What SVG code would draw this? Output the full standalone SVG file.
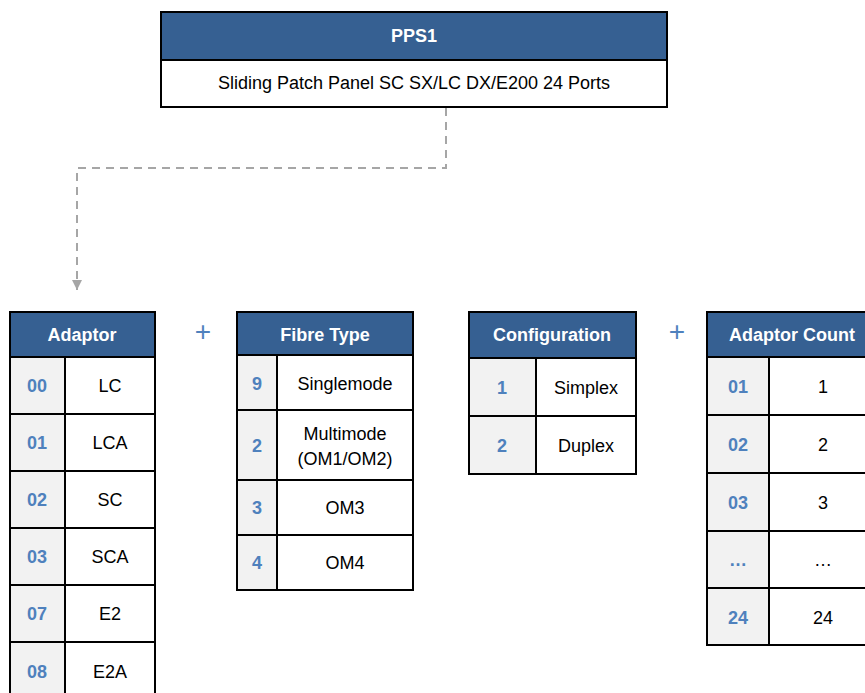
<svg xmlns="http://www.w3.org/2000/svg" width="865" height="693" viewBox="0 0 865 693">
<defs>
<style>
.bg{fill:#ffffff}
.hdr{fill:#366092;stroke:#000;stroke-width:2}
.cell{fill:#ffffff;stroke:#000;stroke-width:2}
.key{fill:#f2f2f2;stroke:#000;stroke-width:2}
.ht{font-family:"Liberation Sans",Arial,sans-serif;font-size:18px;font-weight:bold;fill:#ffffff;text-anchor:middle}
.t{font-family:"Liberation Sans",Arial,sans-serif;font-size:18px;fill:#000;text-anchor:middle}
.k{font-family:"Liberation Sans",Arial,sans-serif;font-size:18px;font-weight:bold;fill:#4f81bd;text-anchor:middle}
.plus{font-family:"Liberation Sans",Arial,sans-serif;font-size:28px;fill:#4f81bd;text-anchor:middle}
.conn{fill:none;stroke:#a6a6a6;stroke-width:2;stroke-dasharray:8,6}
</style>
<marker id="arr" viewBox="0 0 10 10" refX="10" refY="5" markerWidth="5" markerHeight="5" orient="auto" markerUnits="strokeWidth">
<path d="M0,0 L10,5 L0,10 z" fill="#a6a6a6"/>
</marker>
</defs>
<rect class="bg" x="0" y="0" width="865" height="693"/>

<g id="connectors">
<path class="conn" d="M446,108 V168 H77 V290" marker-end="url(#arr)"/>
</g>

<g id="pps1">
<rect class="hdr" x="161" y="12" width="506" height="48"/>
<rect class="cell" x="161" y="60" width="506" height="47"/>
<text class="ht" x="414" y="42">PPS1</text>
<text class="t" x="414" y="89">Sliding Patch Panel SC SX/LC DX/E200 24 Ports</text>
</g>

<g id="adaptor">
<rect class="hdr" x="10" y="312" width="145" height="45"/>
<text class="ht" x="82" y="341">Adaptor</text>
<rect class="key" x="10" y="357" width="55" height="57"/><rect class="cell" x="65" y="357" width="90" height="57"/>
<text class="k" x="37" y="392">00</text><text class="t" x="110" y="392">LC</text>
<rect class="key" x="10" y="414" width="55" height="57"/><rect class="cell" x="65" y="414" width="90" height="57"/>
<text class="k" x="37" y="449">01</text><text class="t" x="110" y="449">LCA</text>
<rect class="key" x="10" y="471" width="55" height="57"/><rect class="cell" x="65" y="471" width="90" height="57"/>
<text class="k" x="37" y="506">02</text><text class="t" x="110" y="506">SC</text>
<rect class="key" x="10" y="528" width="55" height="57"/><rect class="cell" x="65" y="528" width="90" height="57"/>
<text class="k" x="37" y="563">03</text><text class="t" x="110" y="563">SCA</text>
<rect class="key" x="10" y="585" width="55" height="57"/><rect class="cell" x="65" y="585" width="90" height="57"/>
<text class="k" x="37" y="620">07</text><text class="t" x="110" y="620">E2</text>
<rect class="key" x="10" y="642" width="55" height="57"/><rect class="cell" x="65" y="642" width="90" height="57"/>
<text class="k" x="37" y="678">08</text><text class="t" x="110" y="678">E2A</text>
</g>

<text class="plus" x="203" y="341">+</text>

<g id="fibre-type">
<rect class="hdr" x="237" y="312" width="176" height="43"/>
<text class="ht" x="325" y="341">Fibre Type</text>
<rect class="key" x="237" y="355" width="40" height="55"/><rect class="cell" x="277" y="355" width="136" height="55"/>
<text class="k" x="257" y="390">9</text><text class="t" x="345" y="390">Singlemode</text>
<rect class="key" x="237" y="410" width="40" height="70"/><rect class="cell" x="277" y="410" width="136" height="70"/>
<text class="k" x="257" y="452">2</text><text class="t" x="345" y="440">Multimode</text><text class="t" x="345" y="465">(OM1/OM2)</text>
<rect class="key" x="237" y="480" width="40" height="55"/><rect class="cell" x="277" y="480" width="136" height="55"/>
<text class="k" x="257" y="514">3</text><text class="t" x="345" y="514">OM3</text>
<rect class="key" x="237" y="535" width="40" height="55"/><rect class="cell" x="277" y="535" width="136" height="55"/>
<text class="k" x="257" y="569">4</text><text class="t" x="345" y="569">OM4</text>
</g>

<g id="configuration">
<rect class="hdr" x="469" y="312" width="167" height="46"/>
<text class="ht" x="552" y="341">Configuration</text>
<rect class="key" x="469" y="358" width="67" height="58"/><rect class="cell" x="536" y="358" width="100" height="58"/>
<text class="k" x="502" y="394">1</text><text class="t" x="586" y="394">Simplex</text>
<rect class="key" x="469" y="416" width="67" height="58"/><rect class="cell" x="536" y="416" width="100" height="58"/>
<text class="k" x="502" y="452">2</text><text class="t" x="586" y="452">Duplex</text>
</g>

<text class="plus" x="677" y="341">+</text>

<g id="adaptor-count">
<rect class="hdr" x="707" y="312" width="170" height="45"/>
<text class="ht" x="792" y="341">Adaptor Count</text>
<rect class="key" x="707" y="357" width="62" height="58"/><rect class="cell" x="769" y="357" width="108" height="58"/>
<text class="k" x="738" y="393">01</text><text class="t" x="823" y="393">1</text>
<rect class="key" x="707" y="415" width="62" height="58"/><rect class="cell" x="769" y="415" width="108" height="58"/>
<text class="k" x="738" y="451">02</text><text class="t" x="823" y="451">2</text>
<rect class="key" x="707" y="473" width="62" height="58"/><rect class="cell" x="769" y="473" width="108" height="58"/>
<text class="k" x="738" y="509">03</text><text class="t" x="823" y="509">3</text>
<rect class="key" x="707" y="531" width="62" height="57"/><rect class="cell" x="769" y="531" width="108" height="57"/>
<text class="k" x="738" y="566">…</text><text class="t" x="823" y="566">…</text>
<rect class="key" x="707" y="588" width="62" height="57"/><rect class="cell" x="769" y="588" width="108" height="57"/>
<text class="k" x="738" y="624">24</text><text class="t" x="823" y="624">24</text>
</g>
</svg>
